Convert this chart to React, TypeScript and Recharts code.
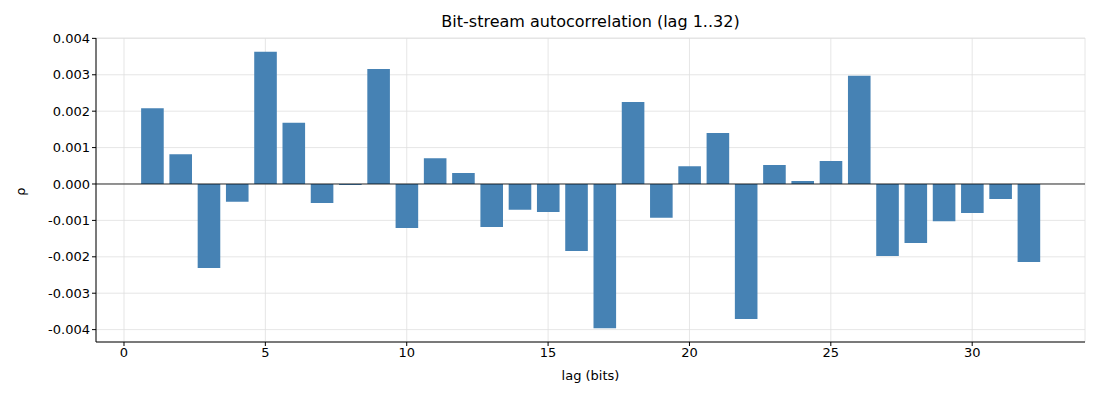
import React from 'react';
import { BarChart, Bar, XAxis, YAxis, CartesianGrid, ReferenceLine } from 'recharts';

const lags = Array.from({ length: 32 }, (_, i) => i + 1);
const rho = [0.00208, 0.00082, -0.00231, -0.00049, 0.00363, 0.00168, -0.00052, -0.00003,
  0.00316, -0.00121, 0.00071, 0.0003, -0.00118, -0.00071, -0.00077, -0.00184,
  -0.00396, 0.00225, -0.00093, 0.00049, 0.0014, -0.00371, 0.00052, 0.00008,
  0.00063, 0.00297, -0.00198, -0.00162, -0.00102, -0.0008, -0.00041, -0.00214];
const xTicks = [0, 5, 10, 15, 20, 25, 30];
const yTicks = [-0.004, -0.003, -0.002, -0.001, 0, 0.001, 0.002, 0.003, 0.004];

const data = lags.map((l, i) => ({ lag: l, rho: rho[i] }));
const font = { fontFamily: 'DejaVu Sans', fontSize: 13, fill: '#000' };

export default function App() {
  return (
    <div style={{ position: 'relative', width: 1100, height: 400, fontFamily: 'DejaVu Sans' }}>
      <div style={{ position: 'absolute', top: 4, left: 88, width: 989, textAlign: 'center', fontSize: 16 }}>
        Bit-stream autocorrelation (lag 1..32)
      </div>
      <div style={{ position: 'absolute', top: 176, left: 8, fontSize: 13, transform: 'rotate(-90deg)' }}>ρ</div>
      <div style={{ position: 'absolute', top: 360, left: 88, width: 989, textAlign: 'center', fontSize: 13 }}>lag (bits)</div>
      <BarChart width={1100} height={400} data={data} margin={{ top: 30, right: 23, left: 0, bottom: 0 }}>
        <CartesianGrid stroke="#e0e0e0" strokeWidth={0.8} />
        <XAxis dataKey="lag" type="number" domain={[-0.99, 33.99]} ticks={xTicks} height={66}
          tick={font} tickLine={{ stroke: '#000' }} axisLine={{ stroke: '#000' }} tickSize={4} />
        <YAxis type="number" domain={[-0.00434, 0.00401]} ticks={yTicks} width={88} allowDataOverflow
          tickFormatter={(v: number) => v.toFixed(3)} tick={font} tickLine={{ stroke: '#000' }}
          axisLine={{ stroke: '#000' }} tickSize={4} />
        <ReferenceLine y={0} stroke="#000" strokeWidth={0.8} />
        <Bar dataKey="rho" fill="#4682b4" barSize={22.6} isAnimationActive={false} />
      </BarChart>
    </div>
  );
}
